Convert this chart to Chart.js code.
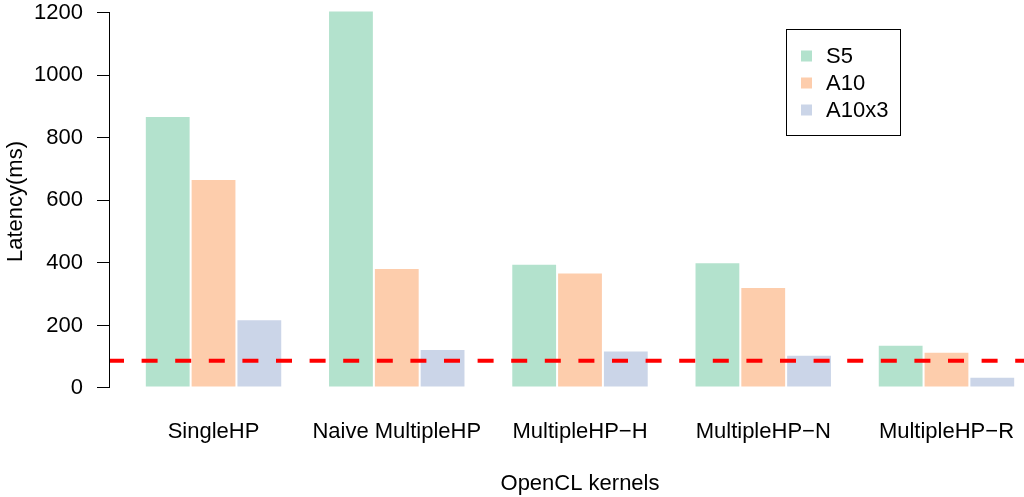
<!DOCTYPE html>
<html>
<head>
<meta charset="utf-8">
<script src="https://cdn.jsdelivr.net/npm/chart.js@4.4.1/dist/chart.umd.min.js"></script>
<style>
  html, body { margin: 0; padding: 0; background: #fff; overflow: hidden; }
  #wrap { position: relative; width: 1050px; height: 497px; }
</style>
</head>
<body>
<div id="wrap"><canvas id="c"></canvas></div>
<script>
// Kernel variants on the x axis
const categories = ['SingleHP', 'Naive MultipleHP', 'MultipleHP\u2212H', 'MultipleHP\u2212N', 'MultipleHP\u2212R'];

// Latency per device (ms)
const s5    = [870, 1207, 397, 402, 138];
const a10   = [668,  384, 369, 323, 116];
const a10x3 = [220,  125, 120, 106,  36];

// Real-time target latency (ms)
const threshold = 87;

// Y axis tick values
const yTicks = [0, 200, 400, 600, 800, 1000, 1200];

// Grouped bar layout: 3 bars of width 1 per group, 1 unit gap between groups
const groupCenter = i => 4 * i + 2.5;
const toPoints = vals => vals.map((v, i) => ({ x: groupCenter(i), y: v }));

const xLo = 1, xHi = 4 * categories.length;
const xPad = 0.04 * (xHi - xLo);
const yPad = 0.04 * (yTicks[yTicks.length - 1] - yTicks[0]);

const FONT = '"Liberation Sans", Arial, Helvetica, sans-serif';
const FSIZE = 22;
Chart.defaults.font.family = FONT;
Chart.defaults.color = '#000';

// Y axis line spanning only the tick range
const yAxisLine = {
  id: 'yAxisLine',
  afterDraw(chart) {
    const y = chart.scales.y, ctx = chart.ctx;
    const x = Math.round(chart.chartArea.left) - 0.5;
    ctx.save();
    ctx.strokeStyle = '#000';
    ctx.lineWidth = 1;
    ctx.beginPath();
    ctx.moveTo(x, y.getPixelForValue(yTicks[0]));
    ctx.lineTo(x, y.getPixelForValue(yTicks[yTicks.length - 1]));
    ctx.stroke();
    ctx.restore();
  }
};

// Dashed horizontal reference line at the target latency
const targetLine = {
  id: 'targetLine',
  afterDatasetsDraw(chart) {
    const { ctx, chartArea } = chart;
    const py = chart.scales.y.getPixelForValue(threshold);
    ctx.save();
    ctx.strokeStyle = '#FF0000';
    ctx.lineWidth = 4;
    ctx.lineCap = 'butt';
    ctx.setLineDash([16, 17.6]);
    ctx.lineDashOffset = 2;
    ctx.beginPath();
    ctx.moveTo(chartArea.left, py);
    ctx.lineTo(chartArea.right, py);
    ctx.stroke();
    ctx.restore();
  }
};

// Boxed legend in the upper right
const legendBox = {
  id: 'legendBox',
  afterDraw(chart) {
    const ctx = chart.ctx;
    ctx.save();
    ctx.strokeStyle = '#000';
    ctx.lineWidth = 1;
    ctx.strokeRect(786.5, 29.5, 114, 106);
    ctx.font = FSIZE + 'px ' + FONT;
    ctx.textBaseline = 'middle';
    ctx.textAlign = 'left';
    chart.data.datasets.forEach((ds, i) => {
      const cy = 56 + i * 27;
      ctx.fillStyle = ds.backgroundColor;
      ctx.fillRect(801, cy - 5.5, 11, 11);
      ctx.fillStyle = '#000';
      ctx.fillText(ds.label, 826, cy + 1);
    });
    ctx.restore();
  }
};

new Chart(document.getElementById('c'), {
  type: 'bar',
  data: {
    datasets: [
      { label: 'S5',    data: toPoints(s5),    backgroundColor: '#B3E2CD' },
      { label: 'A10',   data: toPoints(a10),   backgroundColor: '#FDCDAC' },
      { label: 'A10x3', data: toPoints(a10x3), backgroundColor: '#CBD5E8' }
    ]
  },
  options: {
    responsive: true,
    maintainAspectRatio: false,
    animation: false,
    devicePixelRatio: 1,
    layout: { padding: 0 },
    datasets: {
      bar: {
        categoryPercentage: 0.75,
        barPercentage: 1,
        borderWidth: 1,
        borderColor: '#FFFFFF',
        borderSkipped: false,
        inflateAmount: 0
      }
    },
    plugins: {
      legend: { display: false },
      tooltip: { enabled: false }
    },
    scales: {
      x: {
        type: 'linear',
        min: xLo - xPad,
        max: xHi + xPad,
        offset: false,
        grid: { display: false, drawTicks: false },
        border: { display: false },
        afterBuildTicks: s => { s.ticks = categories.map((_, i) => ({ value: groupCenter(i) })); },
        ticks: {
          autoSkip: false,
          maxRotation: 0,
          padding: 16,
          color: '#000',
          font: { size: FSIZE },
          callback: (v, i) => categories[i]
        },
        title: {
          display: true,
          text: 'OpenCL kernels',
          color: '#000',
          font: { size: FSIZE },
          padding: { top: 0, bottom: 0 }
        },
        afterFit: s => { s.height = 94; s.paddingLeft = 0; s.paddingRight = 0; }
      },
      y: {
        type: 'linear',
        min: yTicks[0] - yPad,
        max: 1240.6,
        grid: { drawOnChartArea: false, tickLength: 13, color: '#000', lineWidth: 1 },
        border: { display: false },
        afterBuildTicks: s => { s.ticks = yTicks.map(v => ({ value: v })); },
        ticks: {
          padding: 14,
          color: '#000',
          font: { size: FSIZE },
          callback: v => String(v)
        },
        title: {
          display: true,
          text: 'Latency(ms)',
          color: '#000',
          font: { size: FSIZE },
          padding: { top: 3, bottom: 0 }
        },
        afterFit: s => { s.width = 110; s.paddingTop = 0; s.paddingBottom = 0; }
      }
    }
  },
  plugins: [yAxisLine, targetLine, legendBox]
});
</script>
</body>
</html>
